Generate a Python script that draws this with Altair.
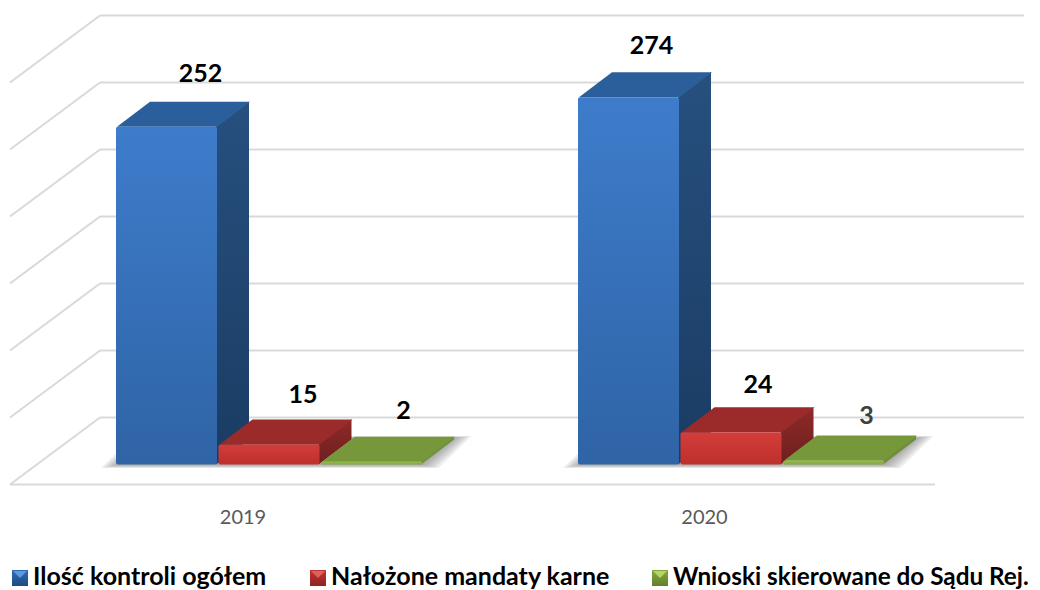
import altair as alt
import pandas as pd

years = ["2019", "2020"]
series = ["Ilość kontroli ogółem", "Nałożone mandaty karne", "Wnioski skierowane do Sądu Rej."]
values_2019 = [252, 15, 2]
values_2020 = [274, 24, 3]
grid_values = [0, 50, 100, 150, 200, 250, 300]
label_dx = [[34, 34, 32], [23, 27, 33]]
label_rise = [[45, 41, 43], [43, 39, 36]]
label_colors = [["#000000", "#000000", "#000000"], ["#000000", "#000000", "#404040"]]
legend_x = [12, 310, 652]
legend_size = [25, 25, 24.3]

W, H = 1024, 582
PPU = 1.34      # pixels per value unit
Y0 = 464.5      # page y of value 0 on the bars' front plane


def v(page_y):
    return (Y0 - page_y) / PPU


x_scale = alt.Scale(domain=[8, 8 + W], range=[0, W], nice=False, zero=False)
y_scale = alt.Scale(domain=[v(8 + H), v(8)], range=[H, 0], nice=False, zero=False)
X = alt.X("x:Q", scale=x_scale, axis=None)
Y = alt.Y("y:Q", scale=y_scale, axis=None)
X2 = alt.X2("x2:Q")
Y2 = alt.Y2("y2:Q")


def grad(c1, c2):
    return alt.Gradient(gradient="linear", stops=[alt.GradientStop(color=c1, offset=0), alt.GradientStop(color=c2, offset=1)], x1=0, x2=0, y1=0, y2=1)


def para(l, r, bottom, top, dx, fill, **kw):
    """parallelogram lying in the floor / top plane; y in value units"""
    df = pd.DataFrame({
        "x": [l, l + dx, r, r + dx],
        "y": [bottom, top, top, top],
        "y2": [bottom, bottom, bottom, top],
    })
    return alt.Chart(df).mark_area(color=fill, **kw).encode(x=X, y=Y, y2=Y2)


def side(r, low, high, dx, dy, fill):
    df = pd.DataFrame({"x": [r, r + dx], "y": [high, high + dy], "y2": [low, low + dy]})
    return alt.Chart(df).mark_area(color=fill).encode(x=X, y=Y, y2=Y2)


layers = []

# back wall, side wall and floor lines
GRID = "#d9d9d9"
back = v(417.5)
depth = 67 / PPU
rows = [{"x": 100, "x2": 1024, "y": g + back} for g in grid_values] + [{"x": 10, "x2": 935, "y": back - depth}]
layers.append(alt.Chart(pd.DataFrame(rows)).mark_rule(color=GRID, strokeWidth=2).encode(x=X, x2=X2, y=Y))
diag = []
for g in grid_values:
    diag += [{"x": 10, "y": g + back - depth, "k": g}, {"x": 100, "y": g + back, "k": g}]
layers.append(alt.Chart(pd.DataFrame(diag)).mark_line(color=GRID, strokeWidth=2).encode(x=X, y=Y, detail="k:N"))

FILL = {
    0: dict(front=("#3e7ccb", "#2f64a6"), side=("#27507f", "#1a3c63"), top="#2b5f9b"),
    1: dict(front=("#d33d3a", "#bd302d"), side=("#8e2a29", "#6d1f1e"), top="#9a2b2a"),
    2: dict(front=("#95bb48", "#84a83d"), side=("#6f8f36", "#6f8f36"), top="#76983a"),
}
BAR_W = 101
STEP = 102.5
DX, DY = 33, 25 / PPU

text_rows = []
for yi, (start, vals) in enumerate(zip([116, 578], [values_2019, values_2020])):
    # soft floor shadow, built of nested translucent layers
    for m in [18, 15, 12, 9, 6, 3]:
        layers.append(para(start - m + 3, start + 3 * STEP + m - 3, v(464.5 + m / 5), v(438 - m / 9), DX,
                           "#404040", opacity=0.09))
    for si, value in enumerate(vals):
        l = start + si * STEP
        r = l + BAR_W
        f = FILL[si]
        layers.append(side(r - 1, 0, value, DX, DY, grad(*f["side"])))
        layers.append(para(l + 1, r, value, value + DY, DX, f["top"]))
        front = pd.DataFrame({"x": [l], "x2": [r], "y": [value], "y2": [0]})
        layers.append(alt.Chart(front).mark_rect(color=grad(*f["front"]), cornerRadius=2).encode(x=X, x2=X2, y=Y, y2=Y2))
        text_rows.append({
            "x": (l + r) / 2 + label_dx[yi][si],
            "y": value + label_rise[yi][si] / PPU,
            "t": str(value),
            "c": label_colors[yi][si],
        })

layers.append(alt.Chart(pd.DataFrame(text_rows)).mark_text(
    font="Lato", fontWeight="bold", fontSize=25, baseline="alphabetic", align="center"
).encode(x=X, y=Y, text="t:N", color=alt.Color("c:N", scale=None)))

# category labels
cats = pd.DataFrame({"x": [243, 704.5], "y": [v(524), v(524)], "t": years})
layers.append(alt.Chart(cats).mark_text(
    font="Lato", fontSize=20, color="#595959", baseline="alphabetic", align="center"
).encode(x=X, y=Y, text="t:N"))

# legend
LEG = [("#2f6cb4", "#1f4a80", "#5b9ade"), ("#c23532", "#8e2321", "#e0605c"), ("#86a83f", "#637f2b", "#b4d668")]
for i, name in enumerate(series):
    lx = legend_x[i]
    sq = pd.DataFrame({"x": [lx], "x2": [lx + 16], "y": [v(570)], "y2": [v(586)]})
    layers.append(alt.Chart(sq).mark_rect(color=grad(LEG[i][0], LEG[i][1])).encode(x=X, x2=X2, y=Y, y2=Y2))
    tri = pd.DataFrame({"x": [lx + 1, lx + 8, lx + 15], "y": [v(571)] * 3, "y2": [v(571), v(578), v(571)]})
    layers.append(alt.Chart(tri).mark_area(color=LEG[i][2]).encode(x=X, y=Y, y2=Y2))
    t = pd.DataFrame({"x": [lx + 21], "y": [v(585)], "t": [name]})
    layers.append(alt.Chart(t).mark_text(
        font="Lato", fontWeight="bold", fontSize=legend_size[i], color="#000000", baseline="alphabetic", align="left"
    ).encode(x=X, y=Y, text="t:N"))

chart = alt.layer(*layers).properties(
    width=W, height=H, padding=0, autosize=alt.AutoSizeParams(type="none"), background="#ffffff"
).configure_view(stroke=None)

chart.save("out.html", embed_options={"renderer": "svg", "actions": False})
